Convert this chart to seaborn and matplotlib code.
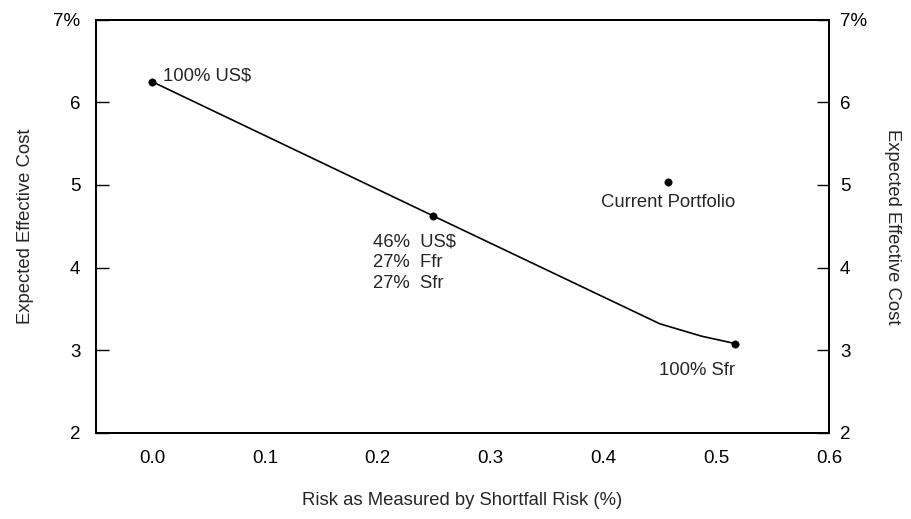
import matplotlib
matplotlib.use("Agg")
import matplotlib.pyplot as plt
import seaborn as sns
import pandas as pd

# efficient frontier (shortfall risk vs expected effective cost)
frontier_risk = [0.0, 0.25, 0.45, 0.487, 0.517]
frontier_cost = [6.25, 4.62, 3.32, 3.17, 3.08]

# labelled portfolios
point_names = ["100% US$", "46%  US$\n27%  Ffr\n27%  Sfr", "100% Sfr", "Current Portfolio"]
point_risk = [0.0, 0.249, 0.517, 0.457]
point_cost = [6.25, 4.62, 3.08, 5.04]

x_ticks = [0.0, 0.1, 0.2, 0.3, 0.4, 0.5, 0.6]
y_ticks = [2, 3, 4, 5, 6, 7]
y_labels = ["2", "3", "4", "5", "6", "7%"]

sns.set_style("white")
plt.rcParams['font.family'] = ['Liberation Sans', 'DejaVu Sans']

fig = plt.figure(figsize=(9.12, 5.19), dpi=100)
ax = fig.add_axes([0.105, 0.166, 0.804, 0.796])

line_df = pd.DataFrame({"risk": frontier_risk, "cost": frontier_cost})
pts_df = pd.DataFrame({"name": point_names, "risk": point_risk, "cost": point_cost})

sns.lineplot(data=line_df, x="risk", y="cost", sort=False, color="black", linewidth=1.2, ax=ax)
sns.scatterplot(data=pts_df, x="risk", y="cost", color="black", s=28, edgecolor="black", zorder=3, ax=ax)

fs = 13.3
# point labels
ax.annotate(point_names[0], (point_risk[0], point_cost[0]), xytext=(8, 4),
            textcoords="offset points", ha="left", va="center", fontsize=fs)
ax.annotate(point_names[1], (point_risk[1], point_cost[1]), xytext=(-43, -12),
            textcoords="offset points", ha="left", va="top", fontsize=fs, linespacing=1.3)
ax.annotate(point_names[2], (point_risk[2], point_cost[2]), xytext=(0, -19),
            textcoords="offset points", ha="right", va="center", fontsize=fs)
ax.annotate(point_names[3], (point_risk[3], point_cost[3]), xytext=(0, -15),
            textcoords="offset points", ha="center", va="center", fontsize=fs)

ax.set_xlim(-0.05, 0.6)
ax.set_ylim(2, 7)
ax.set_xticks(x_ticks)
ax.set_xticklabels([f"{v:.1f}" for v in x_ticks])
ax.set_yticks(y_ticks)
ax.set_yticklabels(y_labels)
ax.set_xlabel("Risk as Measured by Shortfall Risk (%)", fontsize=fs, labelpad=18)
ax.set_ylabel("Expected Effective Cost", fontsize=fs, labelpad=14)
ax.tick_params(direction="in", length=9, width=1, labelsize=13.5, pad=12, colors="black")
ax.tick_params(axis="y", pad=11)

# mirrored axis on the right
ax2 = ax.twinx()
ax2.set_ylim(2, 7)
ax2.set_yticks(y_ticks)
ax2.set_yticklabels(y_labels)
ax2.set_ylabel("Expected Effective Cost", fontsize=fs, rotation=270, labelpad=24)
ax2.tick_params(direction="in", length=9, width=1, labelsize=13.5, pad=8, colors="black")
ax2.grid(False)

for a in (ax, ax2):
    for s in a.spines.values():
        s.set_color("black")
        s.set_linewidth(1.4)

fig.savefig("out.png", dpi=100)
